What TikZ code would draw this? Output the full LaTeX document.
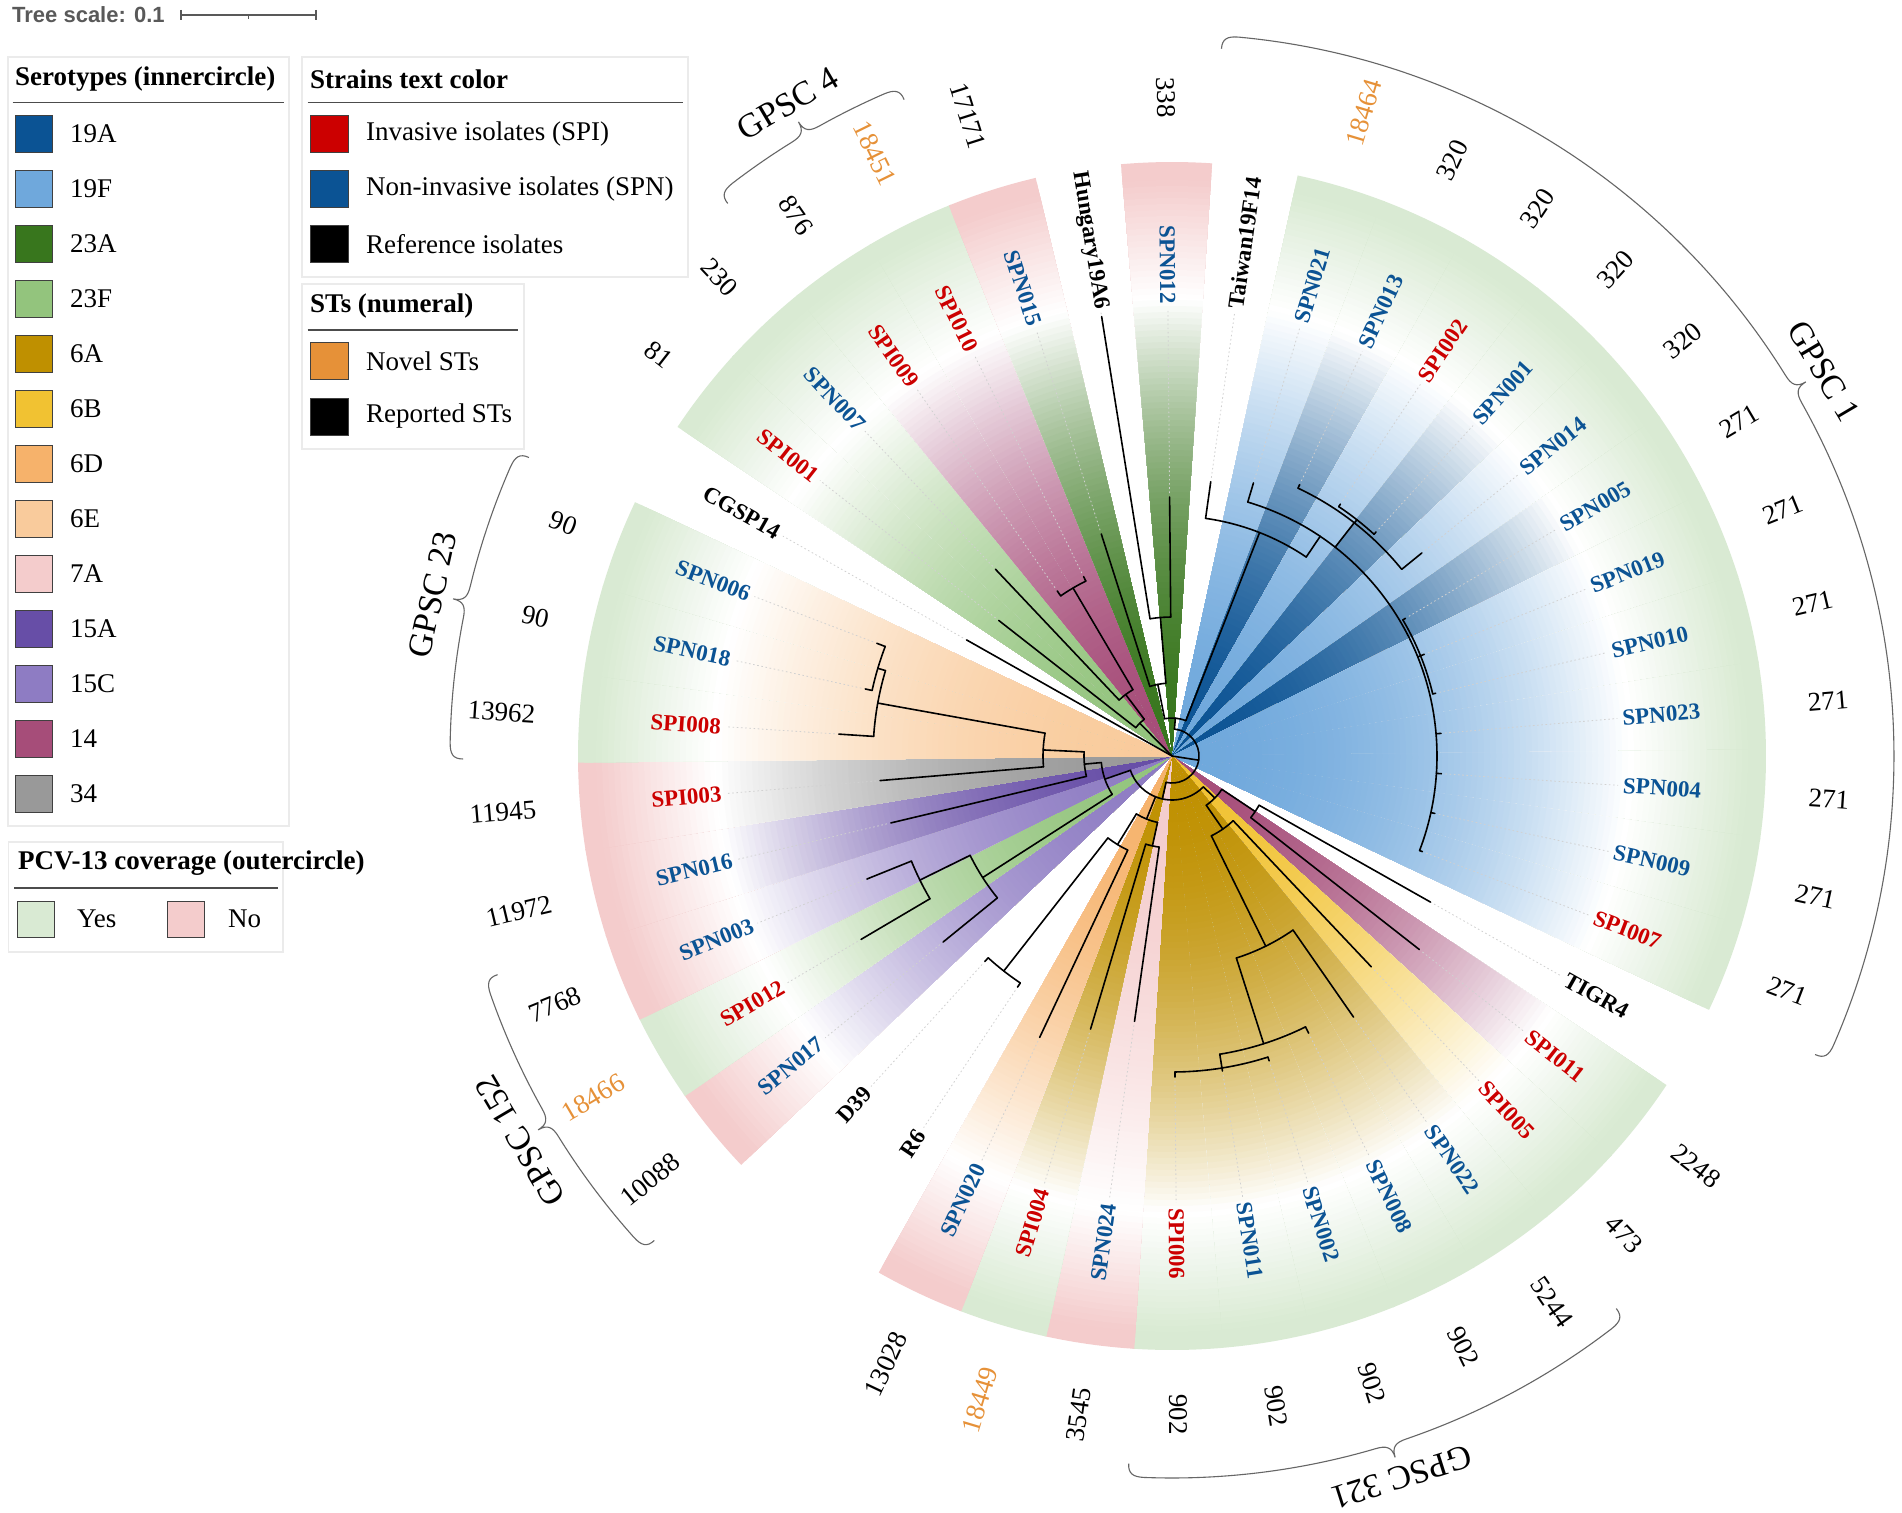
\documentclass[tikz,border=0pt]{standalone}
\usepackage{fontspec}
\setmainfont{Liberation Serif}
\newfontfamily\scalefont{Liberation Sans}
\definecolor{s19A}{HTML}{0B5394}
\definecolor{s19F}{HTML}{6FA8DC}
\definecolor{s23A}{HTML}{38761D}
\definecolor{s23F}{HTML}{93C47D}
\definecolor{s6A}{HTML}{BF9000}
\definecolor{s6B}{HTML}{F1C232}
\definecolor{s6D}{HTML}{F6B26B}
\definecolor{s6E}{HTML}{F9CB9C}
\definecolor{s7A}{HTML}{F4CCCC}
\definecolor{s15A}{HTML}{674EA7}
\definecolor{s15C}{HTML}{8E7CC3}
\definecolor{s14}{HTML}{A64D79}
\definecolor{s34}{HTML}{999999}
\definecolor{cred}{HTML}{CC0000}
\definecolor{cblue}{HTML}{0B5394}
\definecolor{novel}{HTML}{E69138}
\definecolor{cyes}{HTML}{D9EAD3}
\definecolor{cno}{HTML}{F4CCCC}
\newcommand{\tarc}[3]{\draw[treeline] (#2:#1) arc[start angle=#2, end angle=#3, radius=#1];}
\newcommand{\tlin}[3]{\draw[treeline] (#1:#2) -- (#1:#3);}
\newcommand{\gpscbrace}[4]{%
  \pgfmathsetmacro\brm{(#1+#2)/2}%
  \pgfmathsetmacro\brot{\brm-90}%
  \draw[bracestyle] ({#1}:709) .. controls ({#1}:719) and ({#1-0.4}:722) .. ({#1-1.3}:722)
    arc[start angle={#1-1.3}, end angle={\brm+1.3}, radius=722]
    .. controls ({\brm+0.4}:722) and ({\brm}:725) .. ({\brm}:736)
    .. controls ({\brm}:725) and ({\brm-0.4}:722) .. ({\brm-1.3}:722)
    arc[start angle={\brm-1.3}, end angle={#2+1.3}, radius=722]
    .. controls ({#2+0.4}:722) and ({#2}:719) .. ({#2}:709);
  \node[gpsclab, rotate=\brot] (#4) at (\brm:757) {#3};
}
\begin{document}
\begin{tikzpicture}[x=1pt,y=1pt,
  treeline/.style={line width=1.6pt, line cap=round, black},
  dotline/.style={line width=0.8pt, black!18, dash pattern=on 1.6pt off 2.6pt},
  leaflab/.style={font=\bfseries\fontsize{23}{26}\selectfont, inner sep=0pt},
  stlab/.style={font=\fontsize{27}{30}\selectfont, inner sep=0pt},
  gpsclab/.style={font=\fontsize{34}{38}\selectfont, inner sep=0pt},
  bracestyle/.style={line width=1.1pt, black!60},
  legbox/.style={draw=black!8, line width=1.2pt},
  legrule/.style={draw=black!70, line width=1.5pt},
  legtxt/.style={font=\fontsize{27}{30}\selectfont, inner sep=0pt, anchor=west},
  leghead/.style={font=\bfseries\fontsize{27}{30}\selectfont, inner sep=0pt, anchor=west},
  swatch/.style={draw=black!75, line width=1pt}]
\useasboundingbox (0,0) rectangle (1902,-1512);
\fill[white] (0,0) rectangle (1902,-1512);
\coordinate (C) at (1172,-756);
\begin{scope}[shift={(1172,-756)}]
% ---------- coloured wedges (stepped radial gradients) ----------
\foreach \ii/\sc/\cc in {2/s23A/cno,4/s19F/cyes,5/s19A/cyes,6/s19F/cyes,7/s19A/cyes,8/s19F/cyes,
  9/s19A/cyes,10/s19F/cyes,11/s19F/cyes,12/s19F/cyes,13/s19F/cyes,14/s19F/cyes,15/s19F/cyes,
  17/s14/cyes,18/s6B/cyes,19/s6A/cyes,20/s6A/cyes,21/s6A/cyes,22/s6A/cyes,23/s6A/cyes,
  24/s7A/cno,25/s6A/cyes,26/s6D/cno,29/s15C/cno,30/s23F/cyes,31/s15C/cno,32/s15A/cno,
  33/s34/cno,34/s6E/cyes,35/s6E/cyes,36/s6E/cyes,38/s23F/cyes,39/s23F/cyes,40/s14/cyes,
  41/s14/cyes,42/s23A/cno}{
  \pgfmathsetmacro\ang{99.1-(\ii-1)*360/42}
  \pgfmathsetmacro\ta{\ang-4.4}
  \pgfmathsetmacro\tb{\ang+4.4}
  \foreach \rr in {594,588,...,462}{
    \pgfmathsetmacro\pp{min(100,max(0,100*(\rr-461)/118))}
    \fill[\cc!\pp!white] (0,0) -- (\ta:\rr) arc[start angle=\ta, end angle=\tb, radius=\rr] -- cycle;
  }
  \fill[white] (0,0) -- (\ta:458) arc[start angle=\ta, end angle=\tb, radius=458] -- cycle;
  \foreach \rr in {456,450,...,6}{
    \pgfmathsetmacro\pp{max(0,min(100,100*(1-((\rr-3)/456)^2)))}
    \fill[\sc!\pp!white] (0,0) -- (\ta:\rr) arc[start angle=\ta, end angle=\tb, radius=\rr] -- cycle;
  }
}
% ---------- labels, ST numbers, alignment dots ----------
\foreach \ii/\nm/\tc/\hs/\st/\stc/\tip in {
1/Hungary19A6/black/0/-/black/445,
2/SPN012/cblue/1/338/black/259,
3/Taiwan19F14/black/0/-/black/277,
4/SPN021/cblue/1/18464/novel/285,
5/SPN013/cblue/1/320/black/300,
6/SPI002/cred/1/320/black/303,
7/SPN001/cblue/1/320/black/303,
8/SPN014/cblue/1/320/black/322,
9/SPN005/cblue/1/271/black/271,
10/SPN019/cblue/1/271/black/272,
11/SPN010/cblue/1/271/black/271,
12/SPN023/cblue/1/271/black/270,
13/SPN004/cblue/1/271/black/270,
14/SPN009/cblue/1/271/black/269,
15/SPI007/cred/1/271/black/268,
16/TIGR4/black/0/-/black/297,
17/SPI011/cred/1/2248/black/314,
18/SPI005/cred/1/473/black/290,
19/SPN022/cblue/1/5244/black/318,
20/SPN008/cblue/1/902/black/309,
21/SPN002/cblue/1/902/black/320,
22/SPN011/cblue/1/902/black/319,
23/SPI006/cred/1/902/black/321,
24/SPN024/cblue/1/3545/black/268,
25/SPI004/cred/1/18449/novel/285,
26/SPN020/cblue/1/13028/black/311,
27/R6/black/0/-/black/278,
28/D39/black/0/-/black/278,
29/SPN017/cblue/1/10088/black/295,
30/SPI012/cred/1/18466/novel/361,
31/SPN003/cblue/1/7768/black/329,
32/SPN016/cblue/1/11972/black/289,
33/SPI003/cred/1/11945/black/293,
34/SPI008/cred/1/13962/black/334,
35/SPN018/cblue/1/90/black/314,
36/SPN006/cblue/1/90/black/316,
37/CGSP14/black/0/-/black/236,
38/SPI001/cred/1/81/black/220,
39/SPN007/cblue/1/230/black/257,
40/SPI009/cred/1/876/black/201,
41/SPI010/cred/1/18451/novel/200,
42/SPN015/cblue/1/17171/black/233}{
  \pgfmathsetmacro\ang{99.1-(\ii-1)*360/42}
  \pgfmathtruncatemacro\rs{cos(\ang)>=0 ? 1 : 0}
  \draw[dotline] ({\ang}:{\tip+4}) -- ({\ang}:447);
  \ifnum\rs=1
    \node[leaflab, text=\tc, rotate=\ang, anchor=west] (L\ii) at (\ang:452) {\nm};
    \ifnum\hs=1 \node[stlab, text=\stc, rotate=\ang, anchor=west] (S\ii) at (\ang:638) {\st}; \fi
  \else
    \pgfmathsetmacro\rot{\ang+180}
    \node[leaflab, text=\tc, rotate=\rot, anchor=east] (L\ii) at (\ang:452) {\nm};
    \ifnum\hs=1 \node[stlab, text=\stc, rotate=\rot, anchor=east] (S\ii) at (\ang:638) {\st}; \fi
  \fi
}
% ---------- tree ----------
\tarc{139}{99.10}{90.53}
\tlin{99.10}{139}{445}
\tlin{90.53}{139}{259}
\tlin{94.8}{73}{139}
\tarc{73}{107.67}{94.8}
\tlin{107.67}{73}{233}
\tlin{101.2}{38}{73}
\tarc{195}{124.81}{116.24}
\tlin{124.81}{195}{201}
\tlin{116.24}{195}{200}
\tlin{120.5}{77}{195}
\tarc{77}{133.39}{120.5}
\tlin{133.39}{77}{257}
\tlin{127}{46}{77}
\tarc{46}{141.96}{127}
\tlin{141.96}{46}{220}
\tlin{134.5}{0}{46}
\tlin{150.53}{0}{236}
\tarc{38}{101.2}{68.6}
\tlin{84.9}{27}{38}
\tlin{68.6}{38}{240}
% GPSC 1
\tarc{240}{81.96}{56}
\tlin{81.96}{240}{277}
\tlin{56}{240}{265}
\tarc{265}{73.39}{-20.90}
\tlin{73.39}{265}{285}
\tlin{52}{265}{296}
\tarc{296}{64.81}{39.10}
\tlin{64.81}{296}{300}
\tlin{51.95}{296}{300}
\tarc{300}{56.24}{47.67}
\tlin{56.24}{300}{303}
\tlin{47.67}{300}{303}
\tlin{39.10}{296}{322}
\tlin{21.96}{265}{268}
\tarc{268}{30.53}{13.39}
\tlin{30.53}{268}{271}
\tlin{21.96}{268}{272}
\tlin{13.39}{268}{271}
\tlin{4.81}{265}{270}
\tlin{-3.76}{265}{270}
\tlin{-12.33}{265}{269}
\tlin{-20.90}{265}{268}
% root
\tarc{27}{84.9}{-102.75}
\tlin{-8.9}{0}{27}
\tlin{-102.75}{27}{44}
\tarc{44}{-161}{-44.5}
% right-bottom
\tlin{-44.5}{44}{60}
\tarc{60}{-33.75}{-55.2}
\tlin{-33.75}{60}{100}
\tarc{100}{-29.47}{-38.04}
\tlin{-29.47}{100}{297}
\tlin{-38.04}{100}{314}
\tlin{-55.2}{60}{89}
\tarc{89}{-46.61}{-63.76}
\tlin{-46.61}{89}{290}
\tlin{-63.76}{89}{212}
\tarc{212}{-55.19}{-72.33}
\tlin{-55.19}{212}{318}
\tlin{-72.33}{212}{302}
\tarc{302}{-63.76}{-80.9}
\tlin{-63.76}{302}{309}
\tlin{-80.9}{302}{316}
\tarc{316}{-72.33}{-89.47}
\tlin{-72.33}{316}{320}
\tlin{-80.90}{316}{319}
\tlin{-89.47}{316}{321}
% bottom-left
\tlin{-112}{44}{68}
\tarc{68}{-121.6}{-102.3}
\tlin{-102.3}{68}{92}
\tarc{92}{-106.61}{-98.04}
\tlin{-106.61}{92}{285}
\tlin{-98.04}{92}{268}
\tlin{-121.6}{68}{104}
\tarc{104}{-128.04}{-115.19}
\tlin{-115.19}{104}{311}
\tlin{-128.04}{104}{273}
\tarc{273}{-123.76}{-132.33}
\tlin{-123.76}{273}{278}
\tlin{-132.33}{273}{278}
% left
\tlin{-161}{44}{71}
\tarc{71}{-174.7}{-147.3}
\tlin{-147.3}{71}{225}
\tarc{225}{-153.8}{-140.90}
\tlin{-140.90}{225}{295}
\tlin{-153.8}{225}{281}
\tarc{281}{-158.04}{-149.47}
\tlin{-158.04}{281}{329}
\tlin{-149.47}{281}{361}
\tlin{-174.7}{71}{88}
\tarc{88}{177.3}{193.39}
\tlin{193.39}{88}{289}
\tlin{177.3}{88}{129}
\tarc{129}{169.8}{184.81}
\tlin{184.81}{129}{293}
\tlin{169.8}{129}{299}
\tarc{299}{163.4}{176.24}
\tlin{176.24}{299}{334}
\tlin{163.4}{299}{307}
\tarc{307}{159.10}{167.67}
\tlin{159.10}{307}{316}
\tlin{167.67}{307}{314}
% ---------- GPSC braces ----------
\gpscbrace{86}{-24.9}{GPSC 1}{g1}
\gpscbrace{128.8}{112.2}{GPSC 4}{g4}
\gpscbrace{180.24}{155.1}{GPSC 23}{g23}
\gpscbrace{223.1}{197.96}{GPSC 152}{g152}
\gpscbrace{-51.2}{-93.5}{GPSC 321}{g321}
\end{scope}
% ---------- tree scale ----------
\node[font=\scalefont\bfseries\fontsize{22}{26}\selectfont, text=black!65, anchor=west, inner sep=0pt] (tscale) at (12,-15) {Tree scale: 0.1};
\draw[black!65, line width=1.3pt] (181,-15) -- (316,-15);
\draw[black!65, line width=1.3pt] (181,-10) -- (181,-20);
\draw[black!65, line width=1.3pt] (316,-10) -- (316,-20);
\draw[black!65, line width=1.1pt] (248.7,-15) -- (248.7,-19);
% ---------- legend: serotypes ----------
\draw[legbox] (8,-57) rectangle (289,-826);
\node[leghead] (hser) at (15,-79) {Serotypes (innercircle)};
\draw[legrule] (12.5,-102.5) -- (284,-102.5);
\foreach \kk/\cl/\lab in {0/s19A/19A,1/s19F/19F,2/s23A/23A,3/s23F/23F,4/s6A/6A,5/s6B/6B,6/s6D/6D,
  7/s6E/6E,8/s7A/7A,9/s15A/15A,10/s15C/15C,11/s14/14,12/s34/34}{
  \pgfmathsetmacro\yy{-(133.7+55*\kk)}
  \filldraw[swatch, fill=\cl] (15.6,\yy+18.5) rectangle (52.7,\yy-18.5);
  \node[legtxt] (ser\kk) at (70,\yy) {\lab};
}
% ---------- legend: strains ----------
\draw[legbox] (302,-57) rectangle (688,-277);
\node[leghead] (hstr) at (310,-79) {Strains text color};
\draw[legrule] (307.6,-102.5) -- (683,-102.5);
\foreach \kk/\cl/\lab in {0/cred/Invasive isolates (SPI),1/cblue/Non-invasive isolates (SPN),2/black/Reference isolates}{
  \pgfmathsetmacro\yy{-(133.7+55*\kk)}
  \filldraw[swatch, fill=\cl] (310,\yy+18.5) rectangle (348,\yy-18.5);
  \node[legtxt] (str\kk) at (366,\yy) {\lab};
}
% ---------- legend: STs ----------
\draw[legbox] (302,-284) rectangle (524,-449);
\node[leghead] (hst) at (310,-306) {STs (numeral)};
\draw[legrule] (307.6,-330) -- (518,-330);
\foreach \kk/\cl/\lab in {0/novel/Novel STs,1/black/Reported STs}{
  \pgfmathsetmacro\yy{-(361+55.5*\kk)}
  \filldraw[swatch, fill=\cl] (310,\yy+18.5) rectangle (348,\yy-18.5);
  \node[legtxt] (sts\kk) at (366,\yy) {\lab};
}
% ---------- legend: PCV-13 ----------
\draw[legbox] (8.3,-842) rectangle (283,-952);
\node[leghead] (hpcv) at (18,-863) {PCV-13 coverage (outercircle)};
\draw[legrule] (14,-888) -- (278,-888);
\filldraw[swatch, fill=cyes] (17.3,-901) rectangle (54,-937);
\node[legtxt] (pyes) at (77,-919) {Yes};
\filldraw[swatch, fill=cno] (167.3,-901) rectangle (204,-937);
\node[legtxt] (pno) at (228,-919) {No};
\end{tikzpicture}
\end{document}
